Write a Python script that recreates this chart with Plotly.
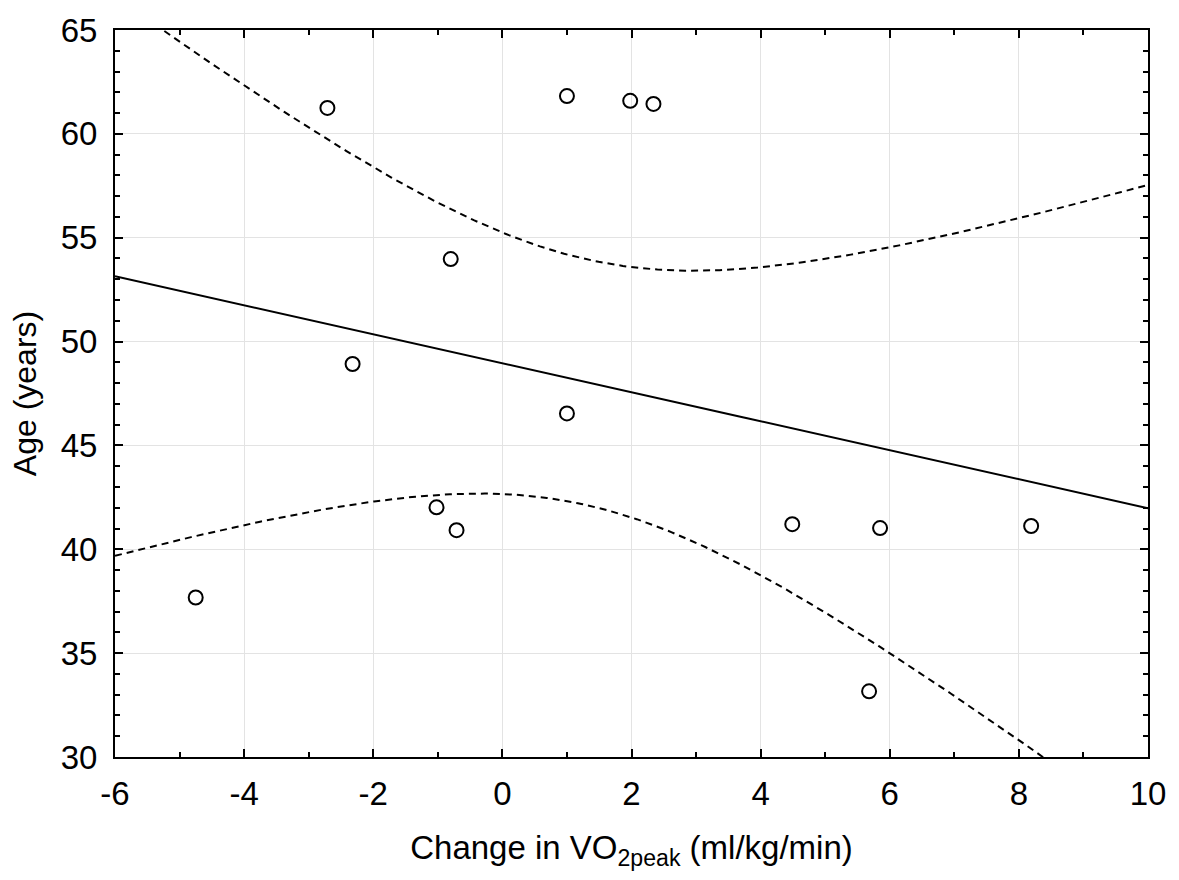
import numpy as np
import plotly.graph_objects as go

# Data
vo2_change = [-2.71, 1.00, 1.98, 2.34, -0.80, -2.32, 1.00, -1.02, -0.71, -4.75, 4.49, 5.85, 8.19, 5.68]
age_years = [61.25, 61.82, 61.59, 61.44, 53.97, 48.92, 46.54, 42.02, 40.92, 37.68, 41.21, 41.02, 41.12, 33.16]

x_tick_vals = [-6, -4, -2, 0, 2, 4, 6, 8, 10]
x_tick_text = ["-6", "-4", "-2", "0", "2", "4", "6", "8", "10"]
y_tick_vals = [30, 35, 40, 45, 50, 55, 60, 65]
y_tick_text = ["30", "35", "40", "45", "50", "55", "60", "65"]

# Linear regression with 95% confidence band for the mean
x = np.array(vo2_change)
y = np.array(age_years)
n = len(x)
xbar, ybar = x.mean(), y.mean()
sxx = ((x - xbar) ** 2).sum()
slope = ((x - xbar) * (y - ybar)).sum() / sxx
intercept = ybar - slope * xbar
resid = y - (intercept + slope * x)
s = np.sqrt((resid ** 2).sum() / (n - 2))
t_crit = 2.178813  # t(0.975, df=12)

xg = np.linspace(-6, 10, 300)
yfit = intercept + slope * xg
half = t_crit * s * np.sqrt(1 / n + (xg - xbar) ** 2 / sxx)

fig = go.Figure()
fig.add_trace(go.Scatter(x=xg, y=yfit + half, mode="lines",
                         line=dict(color="black", width=2, dash="7px,5px"), showlegend=False))
fig.add_trace(go.Scatter(x=xg, y=yfit - half, mode="lines",
                         line=dict(color="black", width=2, dash="7px,5px"), showlegend=False))
fig.add_trace(go.Scatter(x=xg, y=yfit, mode="lines",
                         line=dict(color="black", width=2), showlegend=False))
fig.add_trace(go.Scatter(x=vo2_change, y=age_years, mode="markers",
                         marker=dict(symbol="circle-open", size=14, color="black",
                                     line=dict(width=2, color="black")),
                         showlegend=False, cliponaxis=False))

font_family = "Liberation Sans, Arial, sans-serif"
common_axis = dict(
    showline=True, linecolor="black", linewidth=2, mirror="allticks",
    ticks="inside", ticklen=8, tickwidth=2, tickcolor="black",
    showgrid=True, gridcolor="#e3e3e3", gridwidth=1, zeroline=False,
    tickfont=dict(family=font_family, size=33, color="black"),
    minor=dict(ticks="inside", ticklen=5, tickwidth=2, tickcolor="black", dtick=1, showgrid=False),
)

fig.update_xaxes(range=[-6, 10], tickvals=x_tick_vals, ticktext=x_tick_text, ticklabelstandoff=6,
                 title=dict(text="Change in VO<sub>2peak</sub> (ml/kg/min)",
                            font=dict(family=font_family, size=33, color="black"), standoff=25),
                 **common_axis)
fig.update_yaxes(range=[30, 65], tickvals=y_tick_vals, ticktext=y_tick_text, ticklabelstandoff=9,
                 title=dict(text="Age (years)",
                            font=dict(family=font_family, size=32, color="black"), standoff=14),
                 **common_axis)

fig.update_layout(
    width=1179, height=880,
    margin=dict(l=115, r=31, t=23, b=123),
    paper_bgcolor="white", plot_bgcolor="white",
)

fig.write_html("out.html", config={"displayModeBar": False},
               post_script="document.body.style.margin='0';document.body.style.overflow='hidden';")
